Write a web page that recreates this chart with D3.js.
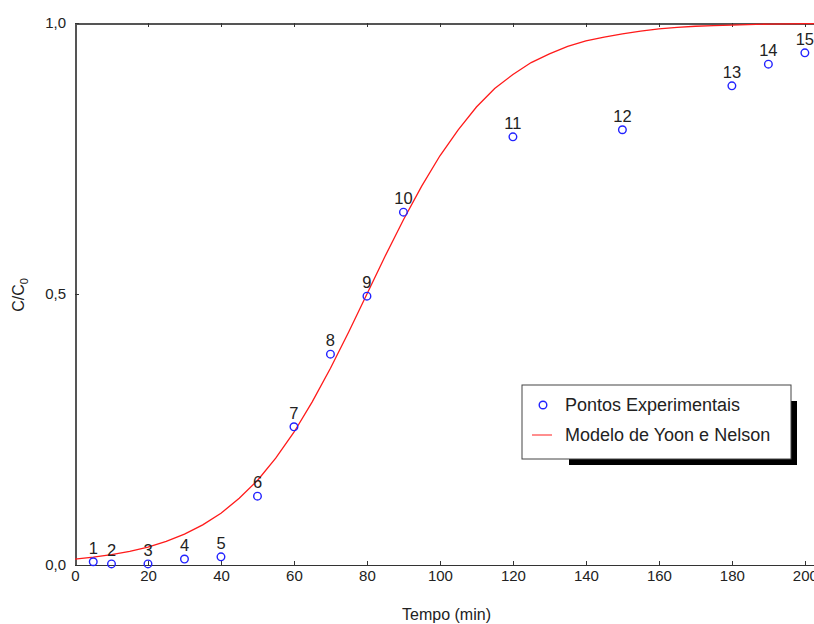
<!DOCTYPE html>
<html>
<head>
<meta charset="utf-8">
<script src="https://cdn.jsdelivr.net/npm/d3@7"></script>
<style>
	body { margin: 0; background: #fff; }
	svg { display: block; font-family: Arial, 'Liberation Sans', sans-serif; }
	.tick text { fill: #222; font-size: 15px; }
	.axis path, .axis line { shape-rendering: crispEdges; }
</style>
</head>
<body>
<div id="graph"></div>
<script>
// experimental points (tempo, C/C0)
const tempos = [5, 10, 20, 30, 40, 50, 60, 70, 80, 90, 120, 150, 180, 190, 200];
const concs = [0.006, 0.002, 0.002, 0.011, 0.015, 0.127, 0.255, 0.389, 0.496, 0.651, 0.79, 0.803, 0.884, 0.924, 0.945];
const pointLabels = ['1', '2', '3', '4', '5', '6', '7', '8', '9', '10', '11', '12', '13', '14', '15'];

// Yoon-Nelson model curve
const modelTempos = [0, 5, 10, 15, 20, 25, 30, 35, 40, 45, 50, 55, 60, 65, 70, 75, 80, 85, 90, 95, 100, 105, 110, 115, 120, 125, 130, 135, 140, 145, 150, 155, 160, 165, 170, 175, 180, 190, 200, 203];
const modelConcs = [0.011, 0.0145, 0.019, 0.025, 0.033, 0.0435, 0.057, 0.074, 0.0955, 0.123, 0.156, 0.197, 0.245, 0.301, 0.363, 0.43, 0.5, 0.57, 0.637, 0.699, 0.755, 0.803, 0.845, 0.879, 0.905, 0.927, 0.943, 0.957, 0.967, 0.974, 0.98, 0.985, 0.989, 0.992, 0.994, 0.995, 0.996, 0.998, 0.999, 0.999];

const xTicks = [0, 20, 40, 60, 80, 100, 120, 140, 160, 180, 200];
const yTicks = [0, 0.5, 1];
const legendLabels = ['Pontos Experimentais', 'Modelo de Yoon e Nelson'];

function drawGraph() {
	const margin = { top: 23, right: 0, bottom: 59, left: 75 };
	const width = 814 - margin.left - margin.right;
	const height = 624 - margin.top - margin.bottom;

	const ptBr = d3.formatLocale({ decimal: ',', thousands: '.', grouping: [3], currency: ['', ''] });

	const xScale = d3.scaleLinear().domain([0, 202.5]).range([0, width]);
	const yScale = d3.scaleLinear().domain([0, 1]).range([height, 0]);

	const svg = d3
		.select('#graph')
		.append('svg')
		.attr('width', 814)
		.attr('height', 624)
		.append('g')
		.attr('transform', `translate(${margin.left}, ${margin.top})`);

	const xAxis = d3.axisBottom(xScale).tickValues(xTicks).tickSizeInner(-4).tickSizeOuter(0).tickPadding(5);
	const topAxis = d3.axisTop(xScale).tickValues(xTicks).tickSizeInner(-4).tickSizeOuter(0).tickFormat('');
	const yAxis = d3.axisLeft(yScale).tickValues(yTicks).tickSizeInner(-4).tickSizeOuter(0).tickPadding(9).tickFormat(ptBr.format('.1f'));

	svg.append('g').attr('class', 'x axis').attr('transform', `translate(0, ${height})`).call(xAxis);
	svg.append('g').attr('class', 'top axis').call(topAxis);
	svg.append('g').attr('class', 'y axis').call(yAxis);

	svg.selectAll('.axis .tick line').attr('stroke', '#333');
	svg.select('.x.axis .domain').attr('stroke', '#333').attr('stroke-width', 1.5);
	svg.select('.top.axis .domain').attr('stroke', '#555').attr('stroke-width', 2);
	svg.select('.y.axis .domain').attr('stroke', '#555').attr('stroke-width', 2);

	// axis titles
	svg.append('text')
		.attr('x', width / 2 + 2)
		.attr('y', height + 55)
		.attr('text-anchor', 'middle')
		.attr('fill', '#222')
		.style('font-size', '16px')
		.text('Tempo (min)');

	const yTitle = svg.append('text')
		.attr('transform', `translate(${-51}, ${height / 2 + 1}) rotate(-90)`)
		.attr('text-anchor', 'middle')
		.attr('fill', '#222')
		.style('font-size', '16px');
	yTitle.append('tspan').text('C/C');
	yTitle.append('tspan').attr('dy', 4).style('font-size', '11px').text('0');

	// model curve
	const model = modelTempos.map((t, i) => ({ x: t, y: modelConcs[i] }));
	const line = d3.line().x((d) => xScale(d.x)).y((d) => yScale(d.y));

	svg.append('path')
		.datum(model)
		.attr('fill', 'none')
		.attr('stroke', '#ff1a1a')
		.attr('stroke-width', 1.3)
		.attr('d', line);

	// experimental points
	const points = tempos.map((t, i) => ({ x: t, y: concs[i], label: pointLabels[i] }));

	svg.selectAll('.pt')
		.data(points)
		.enter()
		.append('circle')
		.attr('class', 'pt')
		.attr('cx', (d) => xScale(d.x))
		.attr('cy', (d) => yScale(d.y))
		.attr('r', 3.8)
		.attr('fill', 'none')
		.attr('stroke', '#2222ff')
		.attr('stroke-width', 1.4);

	svg.selectAll('.pt-label')
		.data(points)
		.enter()
		.append('text')
		.attr('class', 'pt-label')
		.attr('x', (d) => xScale(d.x))
		.attr('y', (d) => yScale(d.y) - 8)
		.attr('text-anchor', 'middle')
		.attr('fill', '#222')
		.style('font-size', '16.5px')
		.text((d) => d.label);

	// legend with heavy shadow
	const legend = svg.append('g').attr('transform', `translate(${522 - margin.left}, ${385 - margin.top})`);

	legend.append('rect').attr('x', 47).attr('y', 16).attr('width', 228).attr('height', 64).attr('fill', '#000');
	legend.append('rect').attr('x', 0).attr('y', 0).attr('width', 269).attr('height', 74).attr('fill', '#fff').attr('stroke', '#444').attr('stroke-width', 1);

	legend.append('circle').attr('cx', 21).attr('cy', 20).attr('r', 3.8).attr('fill', 'none').attr('stroke', '#2222ff').attr('stroke-width', 1.4);
	legend.append('line').attr('x1', 10).attr('x2', 30).attr('y1', 50).attr('y2', 50).attr('stroke', '#ff4444').attr('stroke-width', 1.2);

	legend.selectAll('.leg-text')
		.data(legendLabels)
		.enter()
		.append('text')
		.attr('class', 'leg-text')
		.attr('x', 43)
		.attr('y', (d, i) => 26 + i * 30)
		.attr('fill', '#222')
		.style('font-size', '18px')
		.text((d) => d);
}

drawGraph();
</script>
</body>
</html>
